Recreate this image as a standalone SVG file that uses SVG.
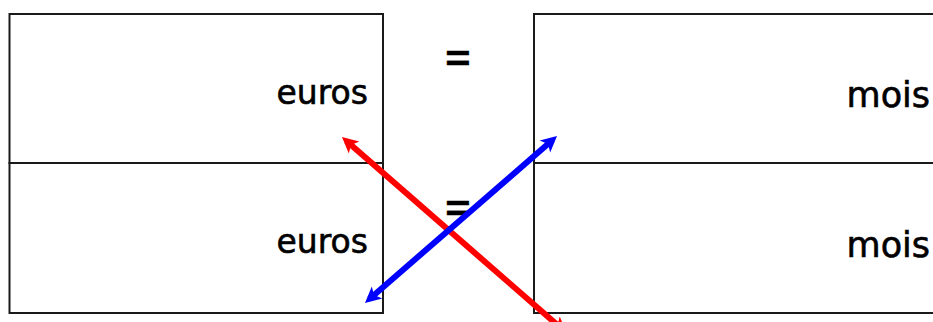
<svg xmlns="http://www.w3.org/2000/svg" width="933" height="322" viewBox="0 0 933 322">
<style>
.box{fill:#fff;stroke:#1a1a1a;stroke-width:2}
.lbl{font-family:"DejaVu Sans",sans-serif;fill:#000;stroke:#000;stroke-width:0.6;text-anchor:end}
.eq{font-family:"DejaVu Sans",sans-serif;fill:#000;stroke:#000;stroke-width:0.4;text-anchor:middle;font-size:50px}
.arr{stroke-width:6;fill:none}
</style>
<defs>
<marker id="hr" markerUnits="userSpaceOnUse" markerWidth="18" markerHeight="18" refX="10" refY="8" orient="auto-start-reverse" viewBox="0 0 18 16">
<path d="M0,0 L16,8 L0,16 L4,8 z" fill="#ff0000"/>
</marker>
<marker id="hb" markerUnits="userSpaceOnUse" markerWidth="18" markerHeight="18" refX="10" refY="8" orient="auto-start-reverse" viewBox="0 0 18 16">
<path d="M0,0 L16,8 L0,16 L4,8 z" fill="#0000ff"/>
</marker>
</defs>
<rect width="933" height="322" fill="#fff"/>
<g id="left-top"><rect class="box" x="9.5" y="14" width="373.5" height="149"/><text class="lbl" x="368" y="104" font-size="33">euros</text></g>
<g id="left-bottom"><rect class="box" x="9.5" y="163" width="373.5" height="150"/><text class="lbl" x="368" y="253" font-size="33">euros</text></g>
<g id="right-top"><rect class="box" x="534" y="14" width="420" height="149"/><text class="lbl" x="930" y="107" font-size="35">mois</text></g>
<g id="right-bottom"><rect class="box" x="534" y="163" width="420" height="150"/><text class="lbl" x="930" y="257" font-size="35">mois</text></g>
<g id="eq1"><text class="eq" transform="translate(458,74) scale(0.7,1)">=</text></g>
<g id="eq2"><text class="eq" transform="translate(458,224) scale(0.7,1)">=</text></g>
<g id="connectors">
<line class="arr" x1="346.5" y1="141" x2="562" y2="329" stroke="#ff0000" marker-start="url(#hr)" marker-end="url(#hr)"/>
<line class="arr" x1="552.5" y1="140" x2="369.5" y2="299" stroke="#0000ff" marker-start="url(#hb)" marker-end="url(#hb)"/>
</g>
</svg>
